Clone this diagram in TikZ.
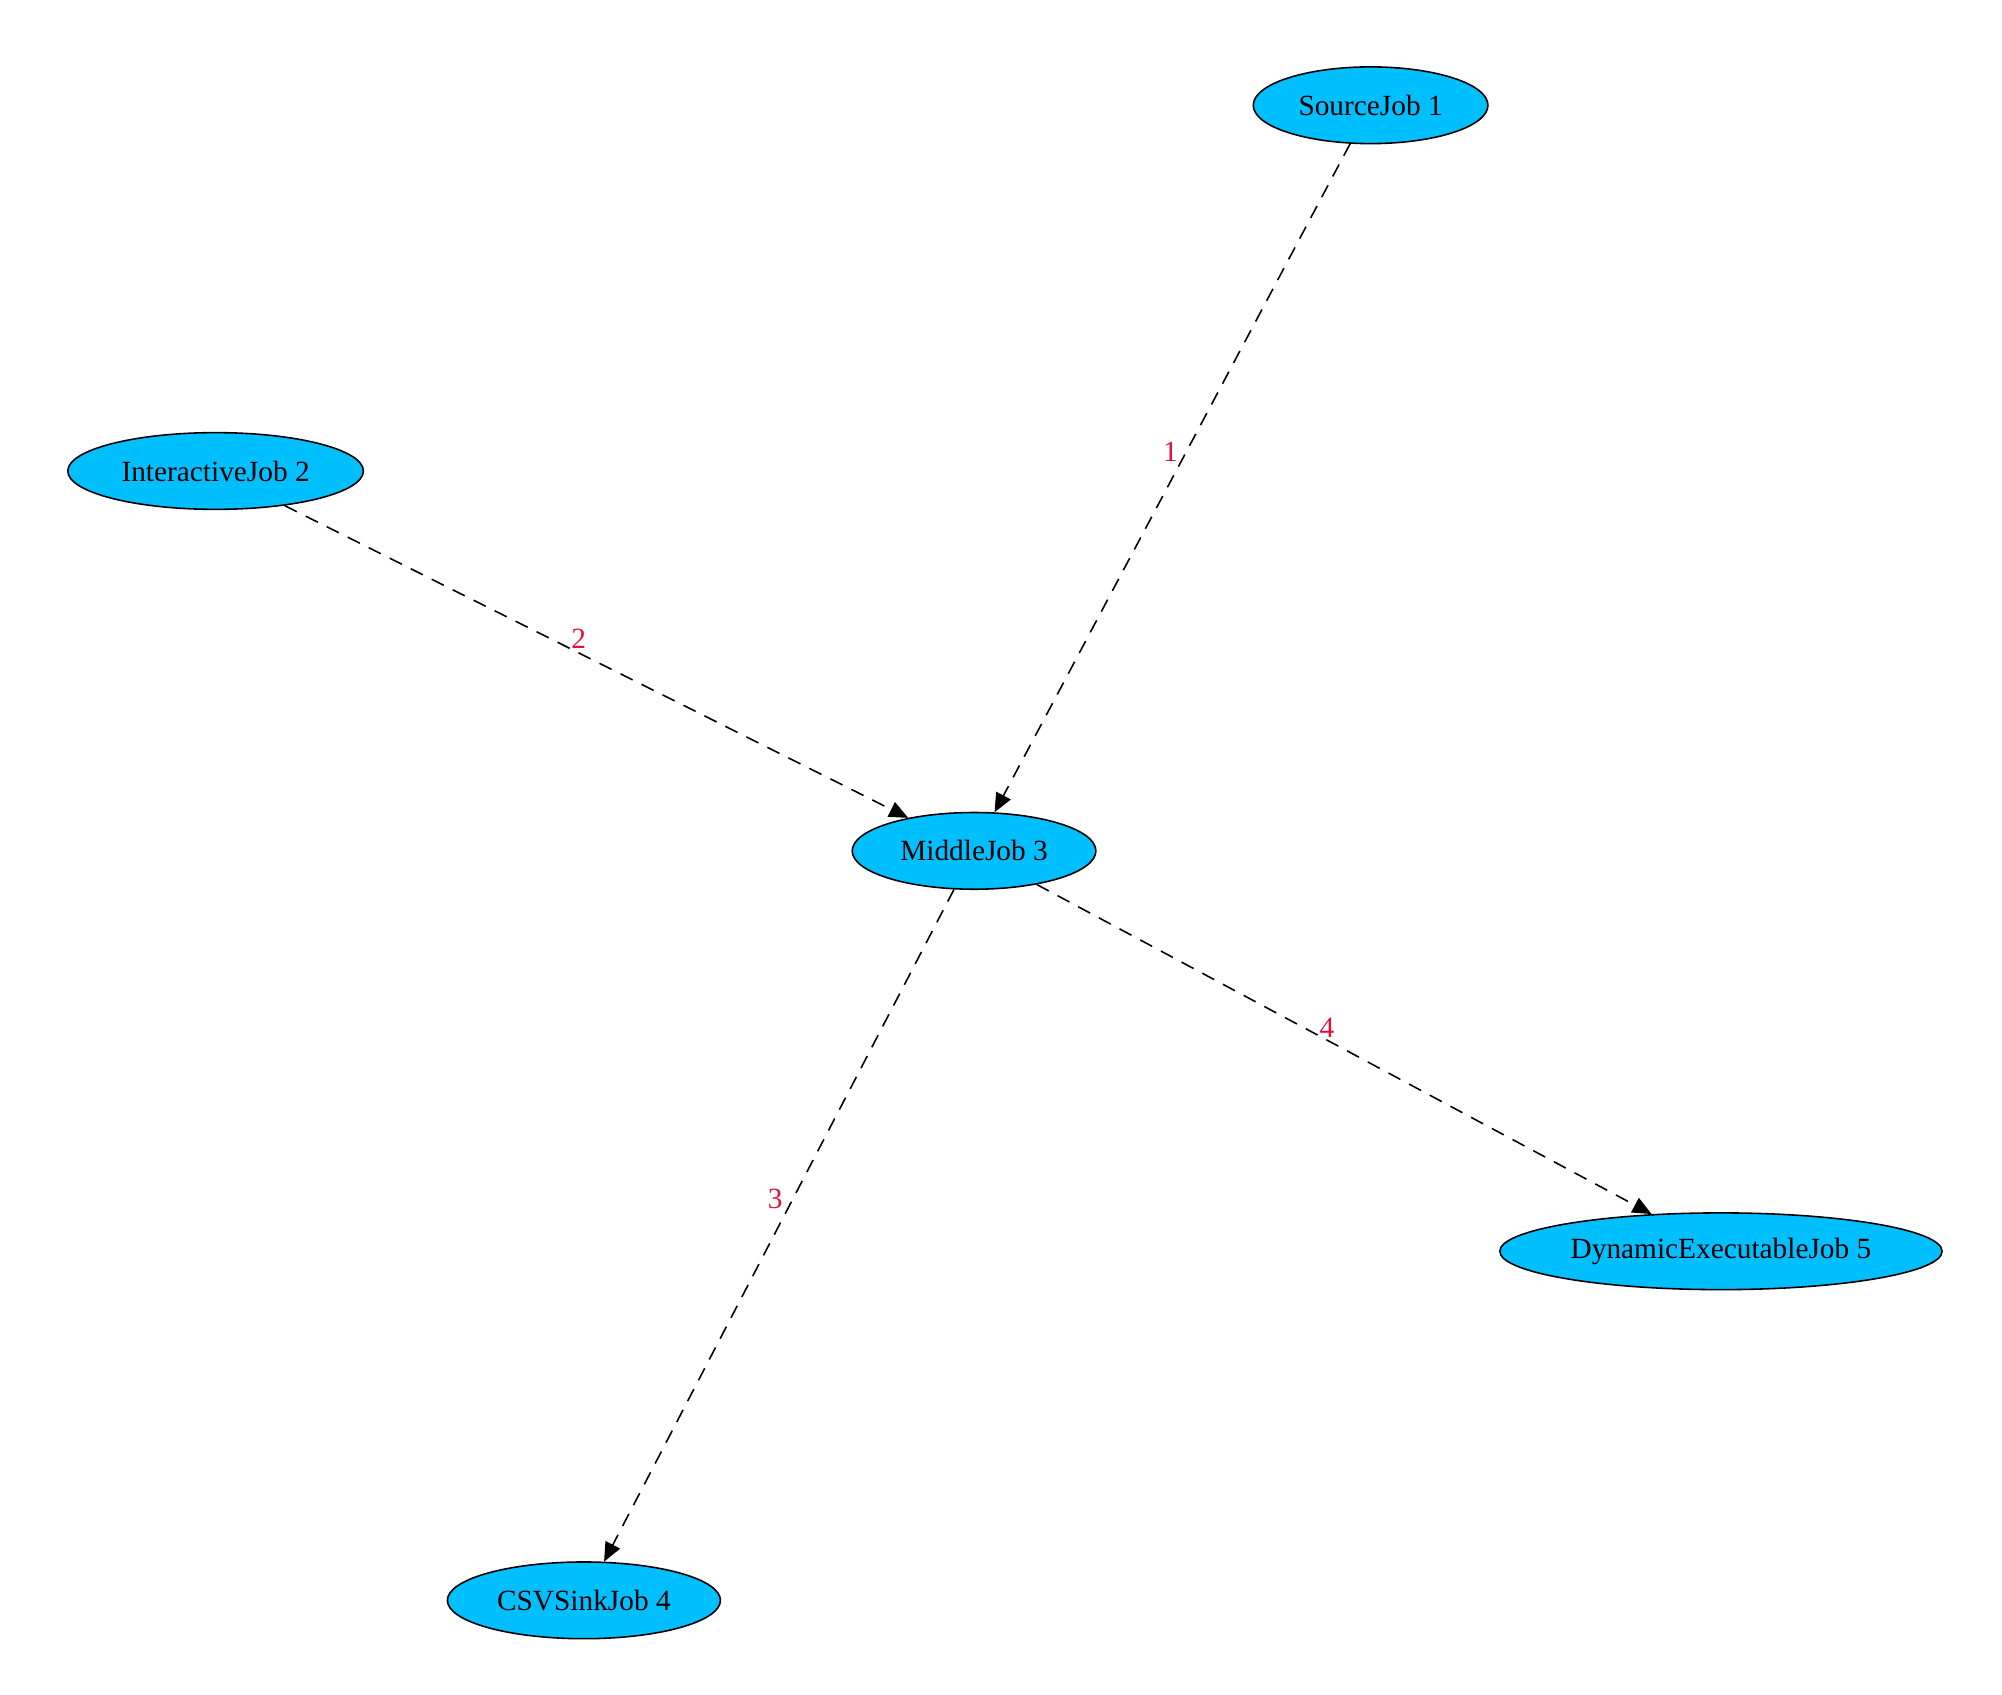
\documentclass[tikz,border=0pt]{standalone}
\usepackage{fontspec}
\setmainfont{Liberation Serif}
\usetikzlibrary{arrows.meta,shapes.geometric}
\definecolor{jobfill}{RGB}{0,191,255}
\definecolor{lbl}{RGB}{220,20,60}
\begin{document}
\begin{tikzpicture}[x=0.01cm,y=-0.01cm,
  job/.style={ellipse,draw=black,fill=jobfill,line width=0.35pt,inner sep=0pt,minimum height=17pt,font=\fontsize{6.5}{7}\selectfont},
  conn/.style={dashed,line width=0.35pt,dash pattern=on 3pt off 2.2pt,-{Triangle[length=4.2pt,width=3.6pt]}},
  elabel/.style={text=lbl,font=\fontsize{6.5}{7}\selectfont,inner sep=0pt}]
\useasboundingbox (0,0) rectangle (1560,1320);
\node[job,minimum width=52pt] (s1) at (1068,82) {SourceJob 1};
\node[job,minimum width=65.5pt] (s2) at (168,367) {InteractiveJob 2};
\node[job,minimum width=54pt] (s3) at (759,663) {MiddleJob 3};
\node[job,minimum width=60.5pt] (s4) at (455,1247) {CSVSinkJob 4};
\node[job,minimum width=98pt] (s5) at (1341,975) {DynamicExecutableJob 5};
\draw[conn] (s1) -- (s3);
\draw[conn] (s2) -- (s3);
\draw[conn] (s3) -- (s4);
\draw[conn] (s3) -- (s5);
\node[elabel] (l1) at (912,352) {1};
\node[elabel] (l2) at (451,498) {2};
\node[elabel] (l3) at (604,934) {3};
\node[elabel] (l4) at (1034,801) {4};
\end{tikzpicture}
\end{document}
